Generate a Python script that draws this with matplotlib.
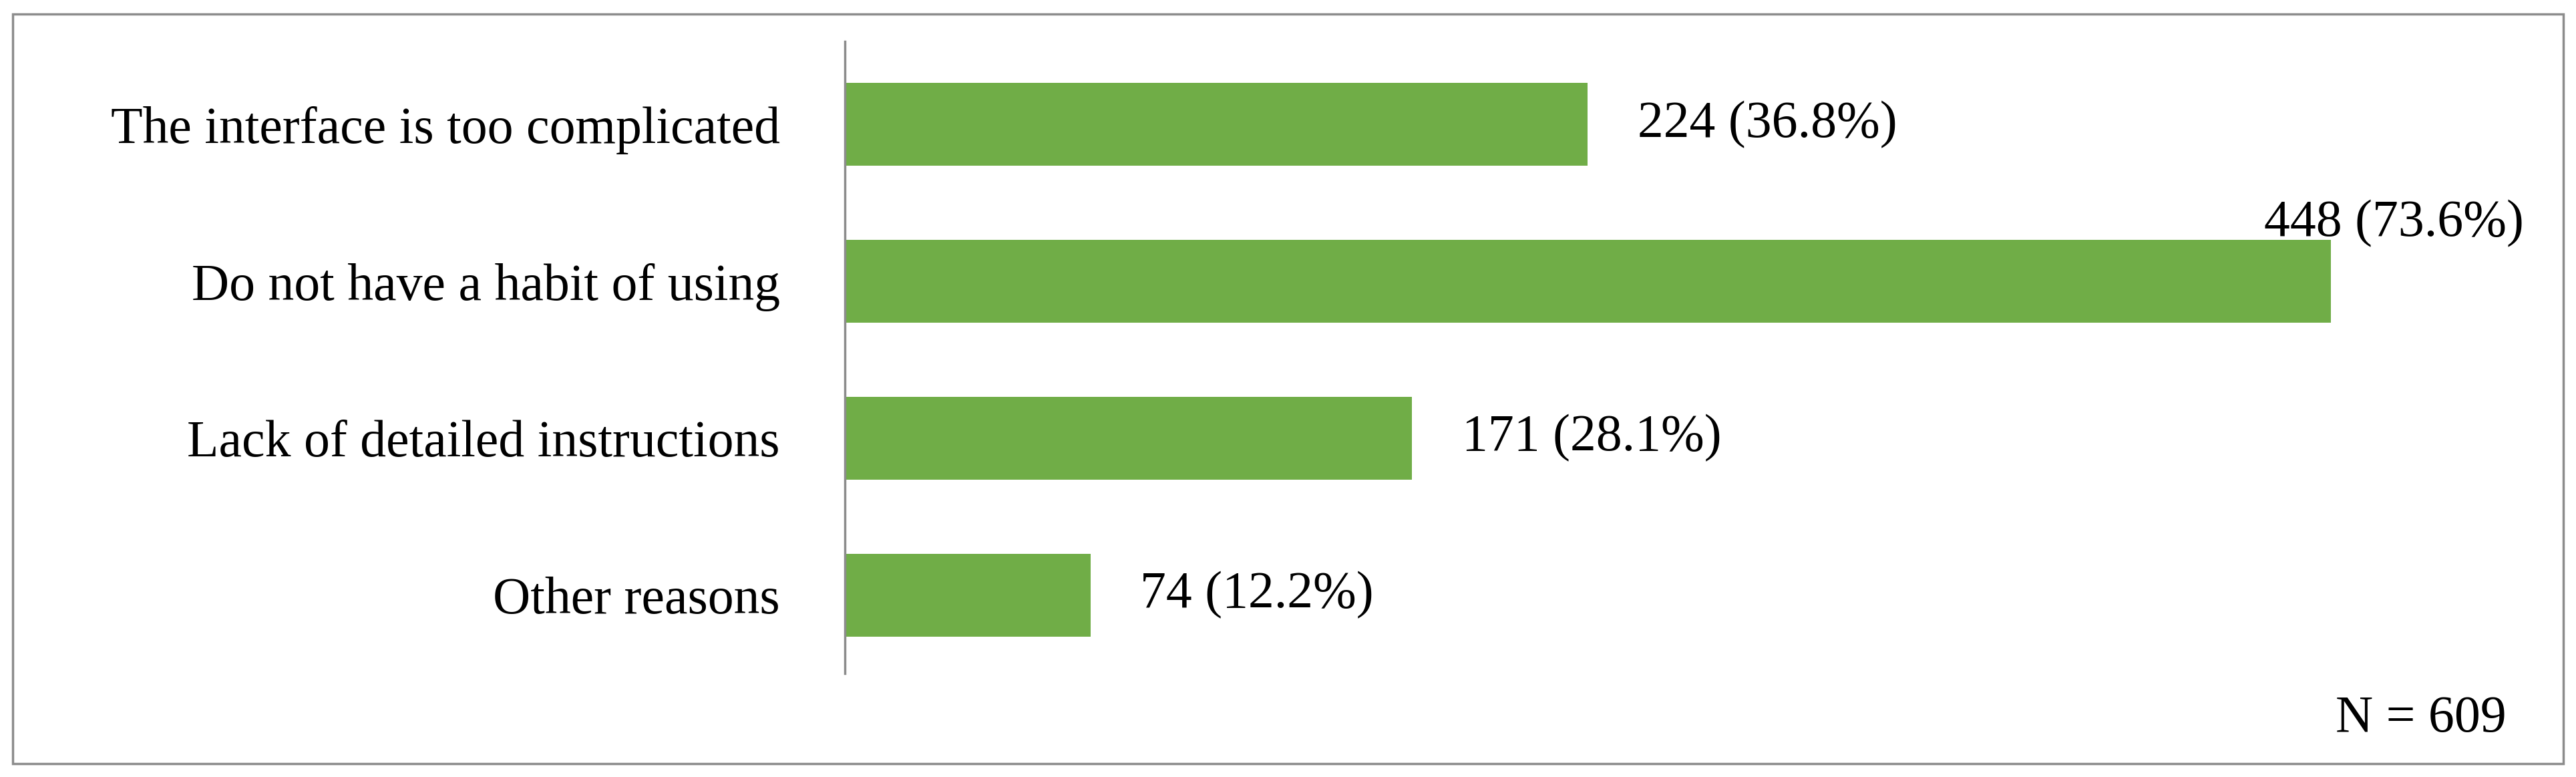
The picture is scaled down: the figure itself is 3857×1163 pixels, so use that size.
import matplotlib
matplotlib.use('Agg')
import matplotlib.pyplot as plt
from matplotlib.patches import Rectangle

categories = ['The interface is too complicated', 'Do not have a habit of using',
              'Lack of detailed instructions', 'Other reasons']
counts = [224, 448, 171, 74]
percents = [36.8, 73.6, 28.1, 12.2]
n_total = 609

plt.rcParams['font.family'] = ['Liberation Serif', 'DejaVu Serif']
fig = plt.figure(figsize=(38.57, 11.63), dpi=100)
fig.patches.append(Rectangle((0.005, 0.017), 0.99, 0.965, transform=fig.transFigure,
                             fill=False, edgecolor='#8c8c8c', linewidth=2.5))
ax = fig.add_axes([0.328, 0.133, 0.654, 0.814])

y = range(len(categories))
ax.barh(y, counts, height=0.53, color='#70AD47')
ax.set_ylim(3.5, -0.53)
ax.set_xlim(0, 508)
ax.set_yticks(list(y))
ax.set_yticklabels(categories, fontsize=56)
ax.tick_params(axis='y', length=0, pad=70)
ax.set_xticks([])
for s in ['top', 'right', 'bottom']:
    ax.spines[s].set_visible(False)
ax.spines['left'].set_color('#8c8c8c')
ax.spines['left'].set_linewidth(2.5)

for i, (c, p) in enumerate(zip(counts, percents)):
    label = f'{c} ({p}%)'
    if c == max(counts):
        ax.text(c - 20, i - 0.37, label, va='center', ha='left', fontsize=56)
    else:
        ax.text(c + 15, i, label, va='center', ha='left', fontsize=56)

fig.text(0.973, 0.075, f'N = {n_total}', ha='right', va='center', fontsize=56)
fig.savefig('out.png', dpi=100)
